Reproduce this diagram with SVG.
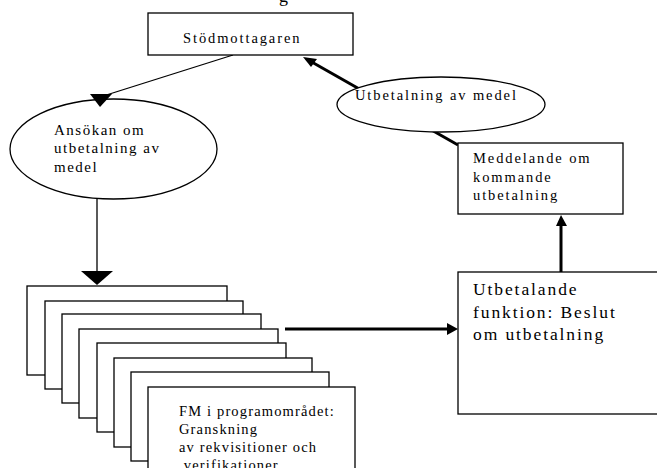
<svg xmlns="http://www.w3.org/2000/svg" width="657" height="468" viewBox="0 0 657 468">
<style>
text{font-family:"Liberation Serif","Times New Roman",serif;fill:#000}
.box{fill:#fff;stroke:#000;stroke-width:1.3}
.ell{fill:#fff;stroke:#000;stroke-width:1.3}
.t14{font-size:14.5px;letter-spacing:1.9px}
.t15{font-size:15px;letter-spacing:1.5px}
.fm{font-size:14.5px;letter-spacing:1.15px}
.big{font-size:17.5px;letter-spacing:1.9px}
.thin{stroke:#000;stroke-width:1.3;fill:none}
.thick{stroke:#000;stroke-width:3;fill:none}
</style>
<rect width="657" height="468" fill="#fff"/>
<text x="279" y="2" style="font-size:18px">g</text>
<g id="connectors">
<line class="thin" x1="233" y1="55" x2="100" y2="97"/>
<line class="thin" x1="97" y1="199" x2="97" y2="274"/>
<line class="thick" x1="458" y1="145" x2="310" y2="61"/>
<line class="thick" x1="285" y1="329" x2="448" y2="329"/>
<line class="thick" x1="561" y1="272" x2="561" y2="225"/>
</g>
<g id="stodmottagaren">
<rect class="box" x="148" y="13" width="205" height="42"/>
<text class="t14" x="183" y="43">Stödmottagaren</text>
</g>
<g id="ansokan">
<ellipse class="ell" cx="113.5" cy="149" rx="103.5" ry="50"/>
<text class="t15" x="54" y="135">Ansökan om</text>
<text class="t15" x="54" y="153">utbetalning av</text>
<text class="t15" x="54" y="172">medel</text>
</g>
<g id="utbetalning-medel">
<ellipse class="ell" cx="441" cy="104.5" rx="104" ry="27.5"/>
<text class="t14" x="355" y="100">Utbetalning av medel</text>
</g>
<g id="meddelande">
<rect class="box" x="458" y="143" width="165" height="71"/>
<text class="t14" x="473" y="163">Meddelande om</text>
<text class="t14" x="473" y="182">kommande</text>
<text class="t14" x="473" y="200">utbetalning</text>
</g>
<g id="fm-stack">
<rect class="box" x="27" y="286" width="200" height="89"/>
<rect class="box" x="45" y="301" width="198" height="88"/>
<rect class="box" x="62" y="314" width="199" height="89"/>
<rect class="box" x="79" y="329" width="199" height="89"/>
<rect class="box" x="97" y="343" width="189" height="89"/>
<rect class="box" x="114" y="358" width="198" height="89"/>
<rect class="box" x="131" y="372" width="198" height="89"/>
<rect class="box" x="148" y="387" width="207" height="100"/>
<text class="fm" x="179" y="416">FM i programområdet:</text>
<text class="fm" x="179" y="434">Granskning</text>
<text class="fm" x="179" y="452">av rekvisitioner och</text>
<text class="fm" x="179" y="470" xml:space="preserve"> verifikationer</text>
</g>
<g id="utbetalande">
<rect class="box" x="458" y="272" width="210" height="142"/>
<text class="big" x="473" y="295">Utbetalande</text>
<text class="big" x="473" y="318">funktion: Beslut</text>
<text class="big" x="473" y="340">om utbetalning</text>
</g>
<g id="arrowheads">
<polygon points="90,94 112,94 100,107"/>
<polygon points="81,271 113,271 97,285"/>
<polygon points="303,57 317,59 311,67"/>
<polygon points="447,323 458,329 447,335"/>
<polygon points="556,226 567,226 561,215"/>
</g>
</svg>
